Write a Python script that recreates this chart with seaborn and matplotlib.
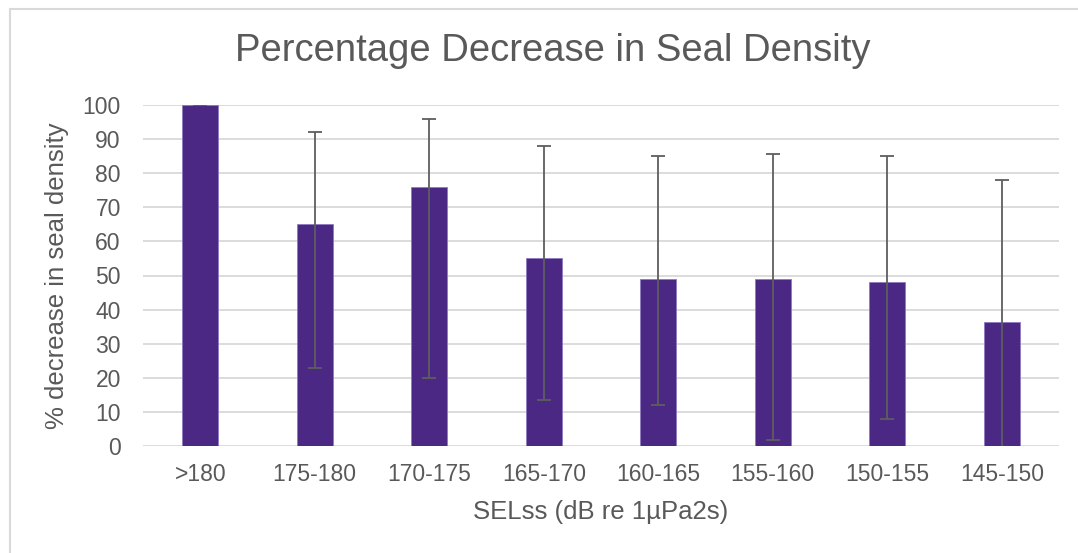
import matplotlib
matplotlib.use("Agg")
import matplotlib.pyplot as plt
import matplotlib.patches as mpatches
import seaborn as sns
import pandas as pd

# Dados
faixas = ['>180', '175-180', '170-175', '165-170', '160-165', '155-160', '150-155', '145-150']
reducao = [100, 65, 76, 55, 49, 49, 48, 36.5]
erro_sup = [100, 92, 96, 88, 85, 85.5, 85, 78]
erro_inf = [100, 23, 20, 13.5, 12, 1.7, 8, -4]

df = pd.DataFrame({'faixa': faixas, 'reducao': reducao})

sns.set_theme(style='white')
plt.rcParams['font.family'] = ['Liberation Sans', 'DejaVu Sans']

cor_texto = '#595959'
cor_barra = '#4B2884'
cor_grade = '#D9D9D9'

fig = plt.figure(figsize=(10.78, 5.53), dpi=100)
ax = fig.add_axes([143 / 1078, 1 - 446 / 553, (1059 - 143) / 1078, (446 - 105) / 553])

sns.barplot(data=df, x='faixa', y='reducao', color=cor_barra, saturation=1,
            width=0.315, edgecolor='#8E7BC0', linewidth=0.6, ax=ax, zorder=2)

# Barras de erro assimétricas (a última passa abaixo de zero e é cortada)
pos = list(range(len(faixas)))
yerr = [[r - lo for r, lo in zip(reducao, erro_inf)],
        [hi - r for r, hi in zip(reducao, erro_sup)]]
ax.errorbar(pos, reducao, yerr=yerr, fmt='none', ecolor='#5E5E5E',
            elinewidth=1.3, capsize=5, capthick=1.3, zorder=3)

ax.set_ylim(0, 100)
ax.set_xlim(-0.5, len(faixas) - 0.5)
ax.set_yticks(range(0, 101, 10))
ax.yaxis.grid(True, color=cor_grade, linewidth=1.3, zorder=0)
ax.set_axisbelow(True)
for s in ax.spines.values():
    s.set_visible(False)

ax.tick_params(axis='both', length=0, labelsize=16.5, labelcolor=cor_texto)
ax.tick_params(axis='x', pad=12)
ax.tick_params(axis='y', pad=16)

ax.set_xlabel('SELss (dB re 1µPa2s)', fontsize=18.5, color=cor_texto, labelpad=10)
ax.set_ylabel('% decrease in seal density', fontsize=18.5, color=cor_texto, labelpad=10)

fig.text(553 / 1078, 1 - 51 / 553, 'Percentage Decrease in Seal Density',
         fontsize=27.5, color=cor_texto, ha='center', va='center')

# Moldura da área do gráfico
moldura = mpatches.Rectangle((10 / 1078, -0.1), 1.2, 1.1 - 9.5 / 553,
                             transform=fig.transFigure, fill=False,
                             edgecolor=cor_grade, linewidth=1.5, clip_on=False)
fig.patches.append(moldura)

fig.savefig('out.png', dpi=100, facecolor='white')
